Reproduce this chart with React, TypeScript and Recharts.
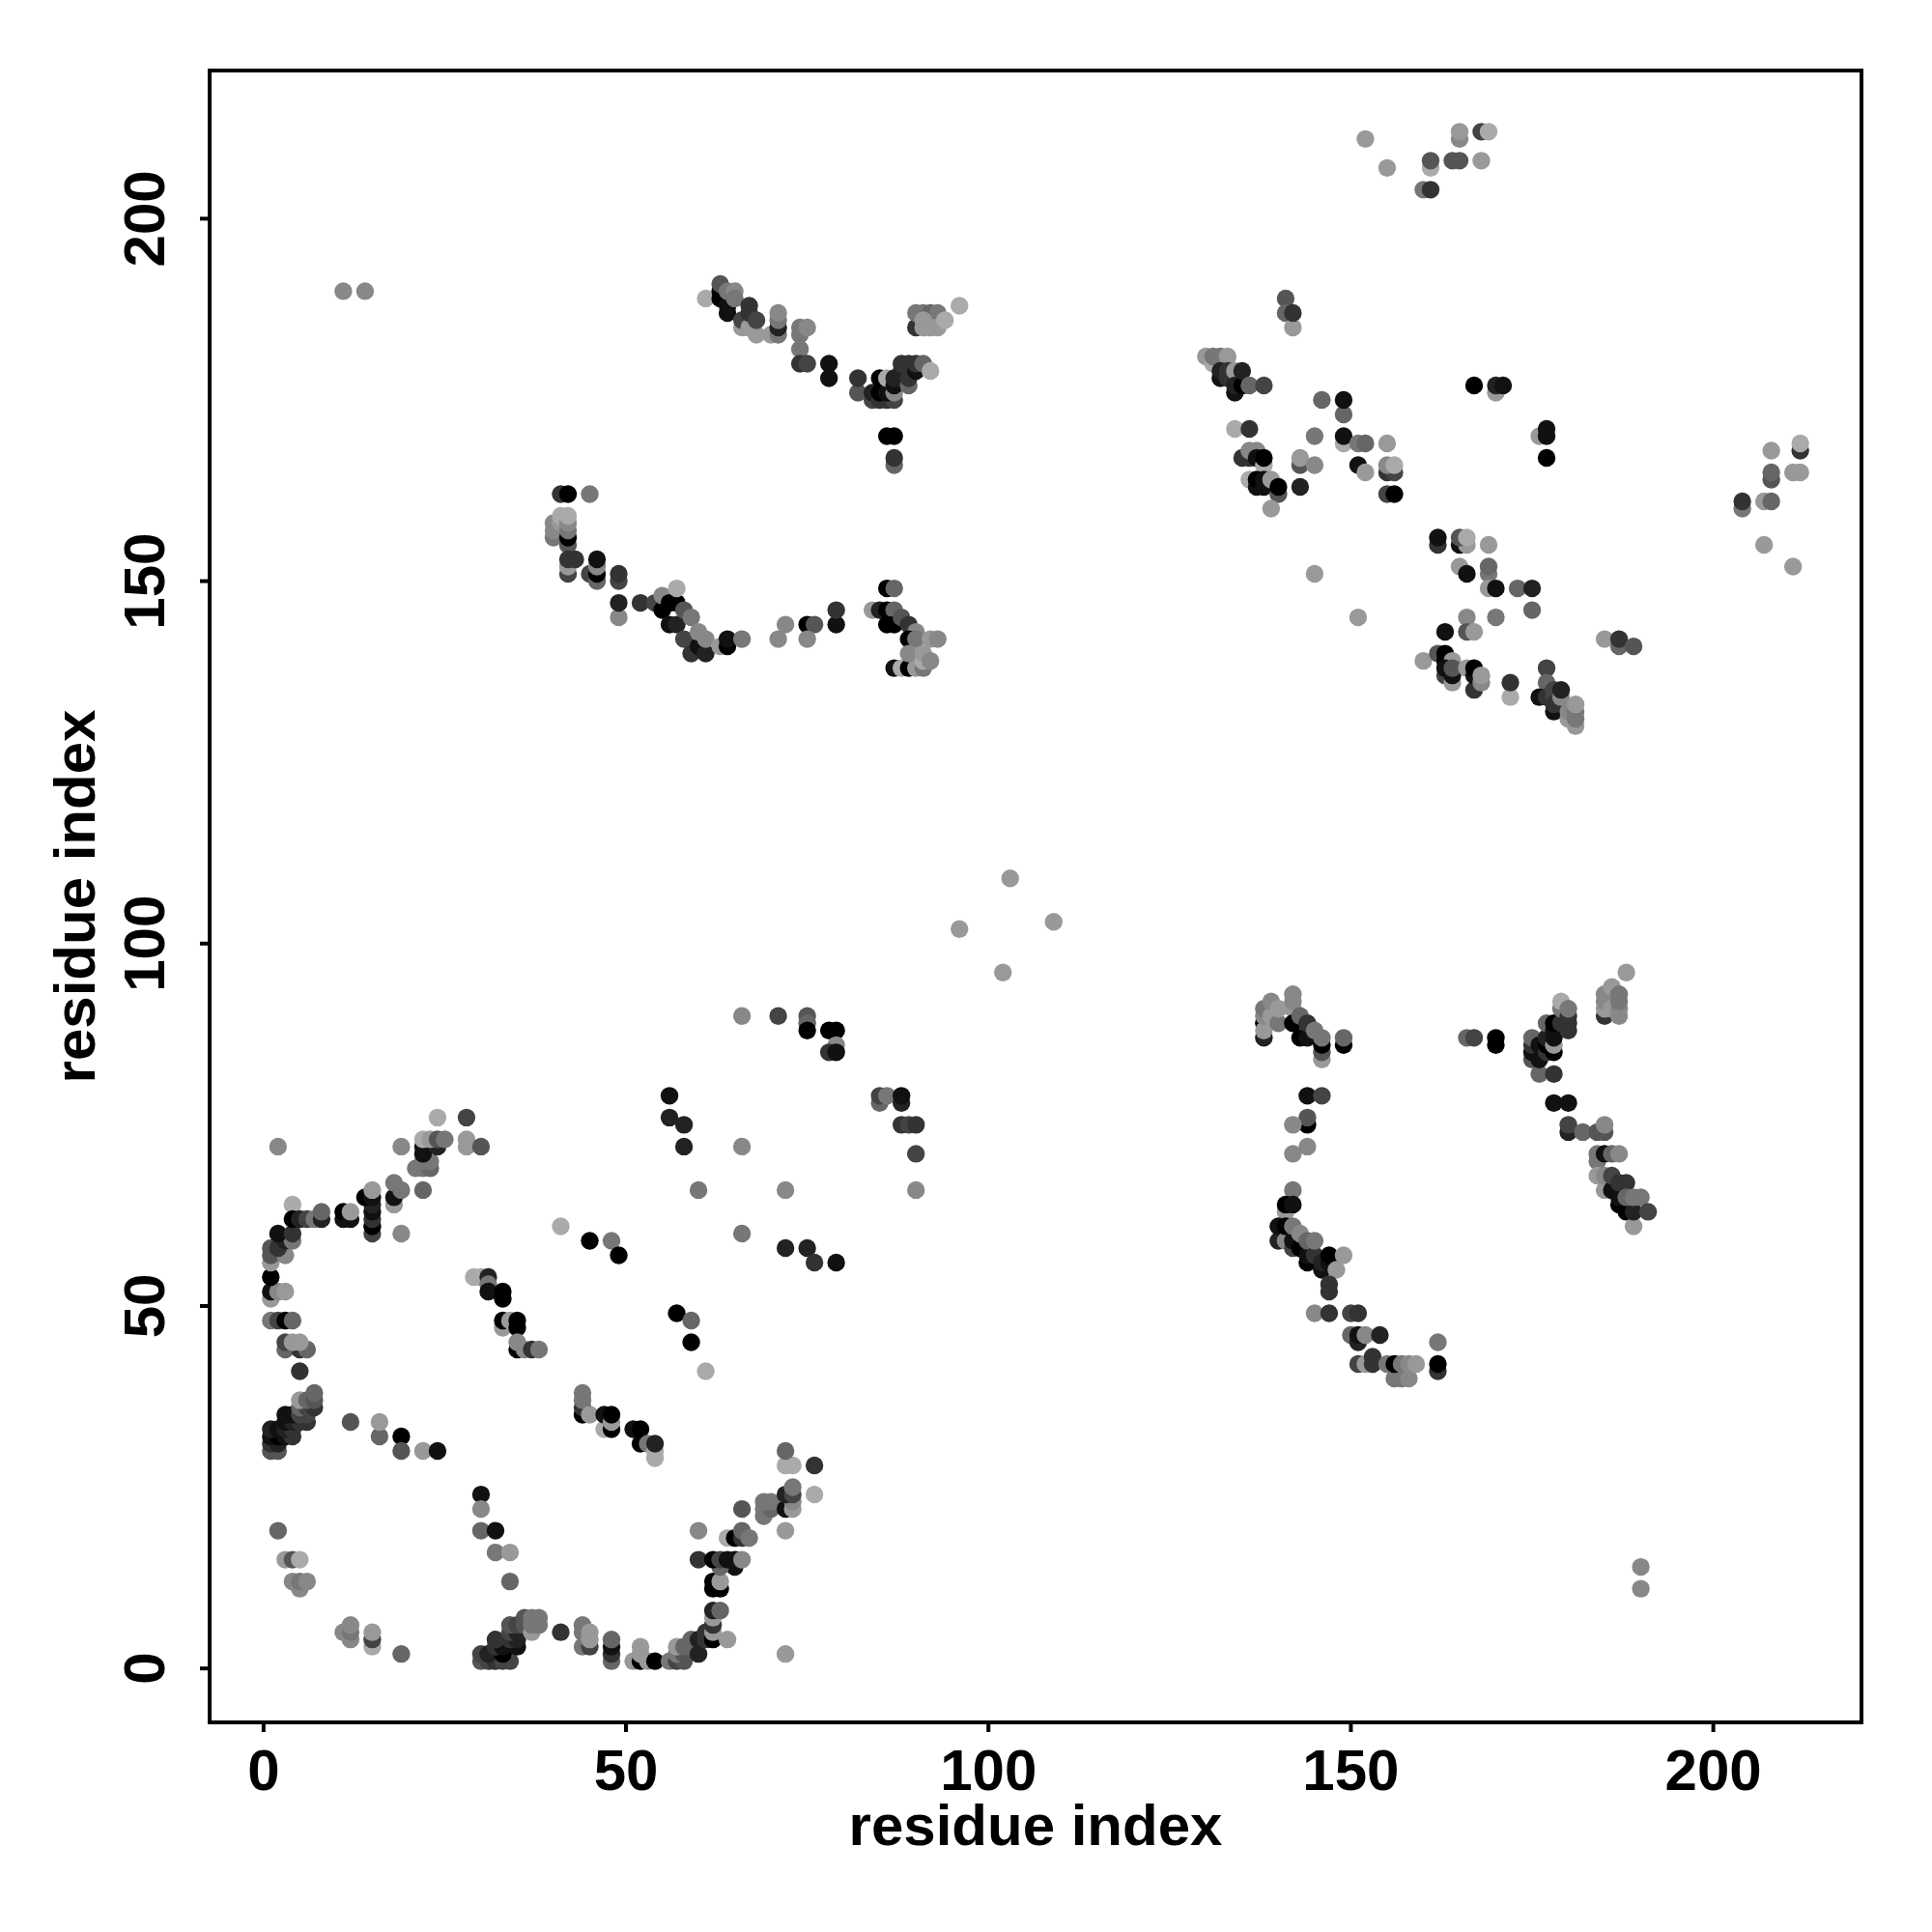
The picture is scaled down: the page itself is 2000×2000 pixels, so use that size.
import React from 'react';
import { ScatterChart, Scatter, XAxis, YAxis, ReferenceArea } from 'recharts';

type Triple = [number, number, number];

const tickValues = [0, 50, 100, 150, 200];
const axisTitle = 'residue index';

// [residue i, residue j, score 0 (black) .. 10 (light)]
const lowerLeftArc: Triple[] = [
  [1,30,5],[2,30,5],[1,31,3],[2,31,2],[1,32,1],[2,32,0],[3,32,1],[4,32,3],[1,33,2],[2,33,1],[3,33,2],[4,33,3],
  [3,34,1],[4,34,2],[5,34,3],[6,34,3],[3,35,1],[4,35,1],[5,35,4],[6,35,4],[5,36,6],[6,36,4],[7,36,3],[5,37,9],[6,37,6],[7,37,5],[7,38,6],
  [5,41,3],[3,44,6],[5,44,3],[6,44,6],[3,45,4],[4,45,9],[5,45,9],[1,48,7],[2,48,4],[3,48,0],[4,48,6],
  [1,51,9],[1,52,1],[2,52,8],[3,52,9],[1,54,0],[1,56,9],[1,57,5],[3,57,8],[1,58,5],[2,58,3],[3,59,2],[4,59,7],[2,60,1],[4,60,3],
  [4,64,10],[4,62,0],[5,62,2],[6,62,4],[7,62,7],[8,62,2],[8,63,6],[11,62,1],[11,63,0],[12,62,1],[12,63,9],
  [15,60,4],[15,61,0],[15,62,3],[15,63,1],[15,64,2],[14,65,0],[15,65,1],[15,66,9],[18,64,9],[18,65,1],[18,67,7],[19,66,7],[19,60,8],[22,66,6],
  [21,69,7],[22,69,7],[23,69,6],[22,70,7],[23,70,7],[22,71,1],[22,72,1],[24,72,2],[22,73,10],[23,73,9],[24,73,5],[25,73,7],
  [24,76,10],[28,76,4],[28,72,9],[28,73,9],[30,72,5],[19,72,8],[2,72,8],
];

const lowerLeftBottom: Triple[] = [
  [2,19,6],[3,15,9],[4,15,5],[5,15,10],[5,11,8],[4,12,8],[5,12,7],[6,12,8],
  [11,5,8],[12,4,8],[12,5,7],[12,6,8],[15,3,10],[15,4,4],[15,5,9],[19,2,6],
  [30,1,5],[31,1,4],[32,1,3],[33,1,4],[34,1,4],[30,2,4],[31,2,2],[33,2,0],[32,3,3],[33,3,1],[35,3,1],[32,4,3],[34,4,3],[35,4,2],
  [34,5,4],[35,5,2],[34,6,5],[35,6,4],[36,6,5],[36,7,5],[37,5,9],[37,6,7],[38,6,7],[37,7,7],[38,7,7],
  [41,5,3],[44,3,7],[45,3,4],[44,5,7],[44,6,7],[45,4,9],[45,5,9],
  [48,1,6],[48,2,3],[48,3,1],[48,4,6],[51,1,9],[52,1,0],[53,1,9],[52,2,9],[52,3,9],[54,1,0],
  [56,1,7],[57,1,4],[58,1,5],[57,2,7],[58,2,5],[57,3,9],[58,3,6],[59,3,6],[59,4,6],[60,2,2],[60,4,2],[61,4,3],[61,5,3],[62,4,0],[62,5,9],[62,6,3],[62,7,9],[64,4,9],[62,8,2],[63,8,6],
  [62,11,0],[63,11,0],[62,12,0],[63,12,9],[65,14,1],[63,14,6],[60,15,3],[62,15,0],[63,15,4],[64,15,1],[65,15,1],[66,15,8],
  [60,19,8],[64,18,10],[65,18,0],[66,18,3],[66,19,6],[67,18,7],[66,22,5],[69,21,7],[69,22,7],[70,22,6],[69,23,7],[70,23,7],
  [72,19,9],[72,22,1],[73,22,9],[73,23,8],[72,24,2],[73,24,4],[73,25,7],[76,24,10],[72,28,10],[73,28,10],[76,28,3],[72,30,6],[72,2,9],
];

const lowerLeftMiddle: Triple[] = [
  [29,54,10],[30,54,10],[31,54,2],[31,53,7],[31,52,1],[33,52,0],[33,51,0],[33,47,9],[33,48,0],[34,48,9],[35,47,0],[35,48,0],[35,44,0],[35,45,8],[36,44,8],[37,44,3],[38,44,7],
  [44,35,0],[44,36,3],[44,37,7],[44,38,7],[45,35,9],[47,33,10],[47,35,1],[48,33,0],[48,34,9],[48,35,0],[51,33,1],[52,33,0],[52,31,0],[53,31,7],[54,29,10],[54,30,10],[54,31,2],
  [12,34,5],[16,32,6],[16,34,9],[19,32,0],[19,30,5],[22,30,9],[24,30,1],
  [30,24,1],[30,22,8],[30,19,6],[32,19,1],[32,16,7],[34,16,9],[34,12,6],
  [41,61,10],[45,59,0],[48,59,7],[49,57,0],[57,49,0],[59,48,6],[59,45,0],[61,41,10],
  [56,79,1],[56,76,2],[58,75,2],[58,72,2],[60,66,7],[66,72,8],[72,66,8],[66,60,7],[72,58,2],[75,58,2],[76,56,3],[79,56,1],
  [66,90,8],[71,90,4],[75,90,5],[75,89,6],[75,88,0],[78,88,0],[79,88,0],[79,86,8],[78,85,3],[79,85,1],
  [85,78,6],[85,79,4],[86,79,7],[88,78,2],[88,79,1],[88,75,3],[89,75,4],[90,75,3],[90,71,4],[90,66,8],
];

const upperLeftTop: Triple[] = [
  [11,190,8],[14,190,8],[61,189,10],[63,189,0],[63,190,0],[64,187,1],[64,188,1],[63,191,5],[64,190,7],[65,190,8],[65,189,7],
  [66,185,9],[66,186,4],[67,185,9],[68,184,9],[67,187,3],[67,188,3],[68,186,4],[70,184,9],[71,184,7],[71,185,2],[71,186,7],[71,187,8],
  [74,182,7],[74,184,7],[74,185,7],[75,185,8],[74,180,3],[75,180,4],[78,180,1],[78,178,1],[82,176,5],[82,178,3],
  [84,175,4],[84,176,2],[85,175,3],[86,175,3],[87,175,4],[85,176,0],[85,178,0],[86,176,1],[86,178,10],[87,176,8],[87,177,1],[87,178,2],
  [88,178,2],[88,179,2],[88,180,3],[89,177,6],[89,178,3],[89,180,3],[90,179,1],[90,180,3],[91,180,6],[92,179,10],
  [90,185,3],[90,187,7],[91,187,7],[92,187,6],[93,187,7],[91,185,9],[92,185,9],[93,185,9],[91,186,9],[94,186,10],[96,188,10],
  [86,170,0],[87,170,0],[87,166,6],[87,167,3],
];

const upperLeftLower: Triple[] = [
  [41,162,3],[42,162,0],[45,162,7],[40,156,7],[40,157,8],[40,158,8],[41,158,9],[41,159,10],[42,155,5],[42,156,0],[42,157,7],[42,158,8],[42,159,10],
  [42,151,4],[42,152,9],[42,153,3],[43,153,3],[45,151,4],[46,150,6],[46,151,0],[46,152,8],[46,153,1],[49,150,4],[49,151,3],[49,145,8],[49,147,2],
  [52,147,3],[54,147,4],[55,146,0],[55,148,8],[56,144,1],[56,147,0],[57,147,0],[57,149,10],[57,144,2],[58,142,4],[58,146,5],[59,140,3],[59,145,7],[60,141,1],[61,140,2],[60,143,8],[61,142,8],
  [63,141,9],[64,141,0],[64,142,1],[66,142,7],[71,142,8],[72,144,8],[75,144,0],[76,144,5],[75,142,8],[79,144,1],[79,146,3],
  [84,146,9],[85,146,2],[86,146,0],[87,146,6],[86,149,0],[87,149,6],[86,144,0],[87,144,0],[88,145,5],[89,144,3],[90,143,8],[89,142,0],[90,142,7],[92,142,9],[93,142,8],
  [87,138,1],[88,138,10],[89,138,0],[90,138,9],[91,138,7],[89,140,8],[91,139,10],[91,140,9],[92,139,8],
];

const centerIsolated: Triple[] = [[103,109,9],[96,102,9],[109,103,9],[102,96,9],[190,14,8],[190,11,8]];

const upperRight: Triple[] = [
  [152,211,9],[155,207,9],[160,204,7],[161,204,3],[161,207,10],[161,208,5],[164,208,5],[165,208,5],[168,208,9],[165,211,8],[165,212,9],[168,212,4],[169,212,10],
  [141,189,5],[141,187,6],[142,185,9],[142,187,3],
  [130,181,9],[131,180,10],[131,181,7],[132,181,7],[133,181,9],[132,178,1],[132,179,2],[133,178,3],[133,179,3],[134,179,9],[134,176,1],[134,177,2],[135,177,0],[135,179,2],[136,177,6],[138,177,4],
  [146,175,6],[149,173,6],[149,175,1],[134,171,10],[136,171,3],[145,170,7],[149,169,10],[149,170,1],[151,169,7],[152,169,6],[155,169,9],
  [143,166,5],[143,167,9],[145,166,8],[151,166,1],[152,165,9],[155,165,3],[156,165,4],[155,166,8],[156,166,10],[155,162,4],[156,162,0],
  [135,167,3],[136,167,3],[136,168,8],[137,168,8],[137,167,1],[138,166,10],[138,167,0],[136,164,10],[137,163,1],[137,164,0],[138,163,1],[138,164,1],[139,164,9],[140,162,5],[140,163,0],[143,163,2],[139,160,9],
  [167,177,0],[170,176,9],[170,177,2],[171,177,1],[176,170,9],[177,170,1],[177,171,1],[177,167,0],
  [204,160,7],[204,161,3],[207,161,9],[208,161,6],[208,168,9],[208,164,5],[208,165,6],[212,168,3],[212,169,10],[211,165,9],[212,165,9],[207,155,9],[211,152,9],
];

const midRight: Triple[] = [
  [145,151,9],[151,145,9],[162,155,3],[162,156,1],[165,155,1],[166,155,9],[165,156,5],[166,156,10],[169,155,9],
  [165,152,9],[166,151,1],[169,151,7],[169,152,6],[169,149,9],[170,149,1],[173,149,6],[175,149,2],[175,146,6],[170,145,7],[166,145,8],
  [163,143,1],[166,143,5],[167,143,9],[185,142,9],[187,141,6],[187,142,3],[189,141,5],
  [160,139,9],[162,140,5],[163,140,0],[163,139,0],[164,139,9],[163,137,4],[163,138,1],[164,136,9],[164,137,1],[164,138,5],
  [166,138,9],[167,135,3],[167,137,1],[167,138,0],[168,136,8],[168,137,9],[172,134,10],[172,136,3],
  [177,138,4],[177,136,6],[176,134,1],[177,134,3],[178,135,4],[178,134,4],[178,132,1],[178,133,3],[179,134,8],[179,135,2],
  [180,131,9],[180,132,8],[181,130,9],[181,131,7],[181,132,7],[181,133,9],
];

const lowerRightLeft: Triple[] = [
  [138,87,2],[138,89,0],[138,88,9],[138,90,8],[138,91,7],[139,90,9],[139,92,8],[140,89,7],[140,91,9],[142,91,9],[142,92,8],[142,93,8],
  [142,89,0],[143,87,0],[143,90,6],[144,87,1],[144,89,3],[145,88,7],[146,84,9],[146,85,5],[146,86,0],[146,87,7],[149,86,0],[149,87,6],
  [144,79,1],[146,79,4],[144,75,0],[144,76,5],[142,75,8],[144,72,8],[142,71,8],[142,66,7],[141,63,9],[141,64,0],[142,64,1],
  [140,59,2],[140,61,1],[141,59,8],[141,61,0],[142,58,4],[142,59,1],[142,61,7],[143,58,0],[143,60,8],[144,56,0],[144,57,1],[144,59,6],[145,57,3],[145,59,7],
  [146,55,1],[146,56,2],[147,56,1],[147,57,0],[148,55,9],[149,57,9],[147,52,3],[147,53,3],
  [145,49,8],[147,49,3],[150,49,4],[151,49,3],[150,46,6],[151,45,2],[151,46,1],[152,46,8],[154,46,2],
  [151,42,4],[152,42,9],[153,42,3],[153,43,3],[155,42,7],[156,40,7],[157,40,7],[158,40,8],[156,42,0],[157,42,7],[158,42,8],[159,42,9],[162,41,3],[162,42,0],[162,45,7],
];

const lowerRightRight: Triple[] = [
  [166,87,6],[167,87,4],[170,86,0],[170,87,0],[175,84,5],[175,85,1],[175,86,3],[175,87,6],[176,82,6],[176,84,1],[176,86,1],
  [177,85,3],[177,86,0],[177,87,2],[177,89,6],[178,82,3],[178,85,0],[178,86,9],[178,87,1],[178,88,1],[178,89,0],
  [179,89,3],[179,91,7],[179,92,10],[180,88,3],[180,89,3],[180,90,3],[180,91,7],[178,78,1],[180,78,1],[180,74,2],[180,75,4],[182,74,6],[184,74,5],[185,74,5],[185,75,8],
  [184,70,7],[184,71,7],[185,71,1],[186,71,6],[187,71,8],[184,68,9],[185,66,9],[185,68,8],[186,66,1],[186,68,4],[187,64,0],[187,65,1],[187,67,3],[188,67,3],
  [188,63,0],[189,61,9],[189,63,2],[188,65,6],[189,65,7],[190,65,7],[191,63,4],
  [185,90,3],[185,91,9],[185,92,8],[185,93,8],[186,91,9],[186,94,9],[187,90,8],[187,91,8],[187,92,7],[187,93,7],[188,96,9],
];

const contacts = [
  ...lowerLeftArc, ...lowerLeftBottom, ...lowerLeftMiddle, ...upperLeftTop, ...upperLeftLower,
  ...centerIsolated, ...upperRight, ...midRight, ...lowerRightLeft, ...lowerRightRight,
].map(([i, j, score]) => ({ i, j, score }));

const FONT = '"Liberation Sans", Arial, sans-serif';
const shade = (score: number) => {
  const g = Math.round(score * 17);
  return `rgb(${g},${g},${g})`;
};

const XTick = (p: any) => (
  <text x={p.x} y={p.y + 58} textAnchor="middle" fontFamily={FONT} fontWeight={700} fontSize={60} fill="#000">{p.payload.value}</text>
);
const YTick = (p: any) => (
  <text x={0} y={0} transform={`translate(${p.x - 35},${p.y}) rotate(-90)`} textAnchor="middle" fontFamily={FONT} fontWeight={700} fontSize={60} fill="#000">{p.payload.value}</text>
);
const Dot = (p: any) => <circle cx={p.cx} cy={p.cy} r={9.2} fill={shade(p.payload?.score ?? p.score)} />;

export default function App() {
  return (
    <div style={{ position: 'absolute', left: 0, top: 0, width: 2000, height: 2000, background: '#fff' }}>
      <ScatterChart width={2000} height={2000} margin={{ top: 73, right: 73, bottom: 0, left: 0 }}>
        <XAxis
          type="number" dataKey="i" domain={[-7.44, 220.44]} ticks={tickValues} interval={0} allowDataOverflow
          height={217} tickSize={10} tick={<XTick />} tickLine={{ stroke: '#000', strokeWidth: 4 }}
          axisLine={{ stroke: '#000', strokeWidth: 4 }}
          label={{ value: axisTitle, position: 'insideBottom', offset: 90, fontFamily: FONT, fontWeight: 700, fontSize: 60, fill: '#000' }}
        />
        <YAxis
          type="number" dataKey="j" domain={[-7.44, 220.44]} ticks={tickValues} interval={0} allowDataOverflow
          width={217} tickSize={10} tick={<YTick />} tickLine={{ stroke: '#000', strokeWidth: 4 }}
          axisLine={{ stroke: '#000', strokeWidth: 4 }}
          label={{ value: axisTitle, angle: -90, position: 'insideLeft', offset: 77, fontFamily: FONT, fontWeight: 700, fontSize: 60, fill: '#000', style: { textAnchor: 'middle' } }}
        />
        <ReferenceArea x1={-7.44} x2={220.44} y1={-7.44} y2={220.44} fill="none" stroke="#000" strokeWidth={4} />
        <Scatter data={contacts} isAnimationActive={false} shape={<Dot />} />
      </ScatterChart>
    </div>
  );
}
